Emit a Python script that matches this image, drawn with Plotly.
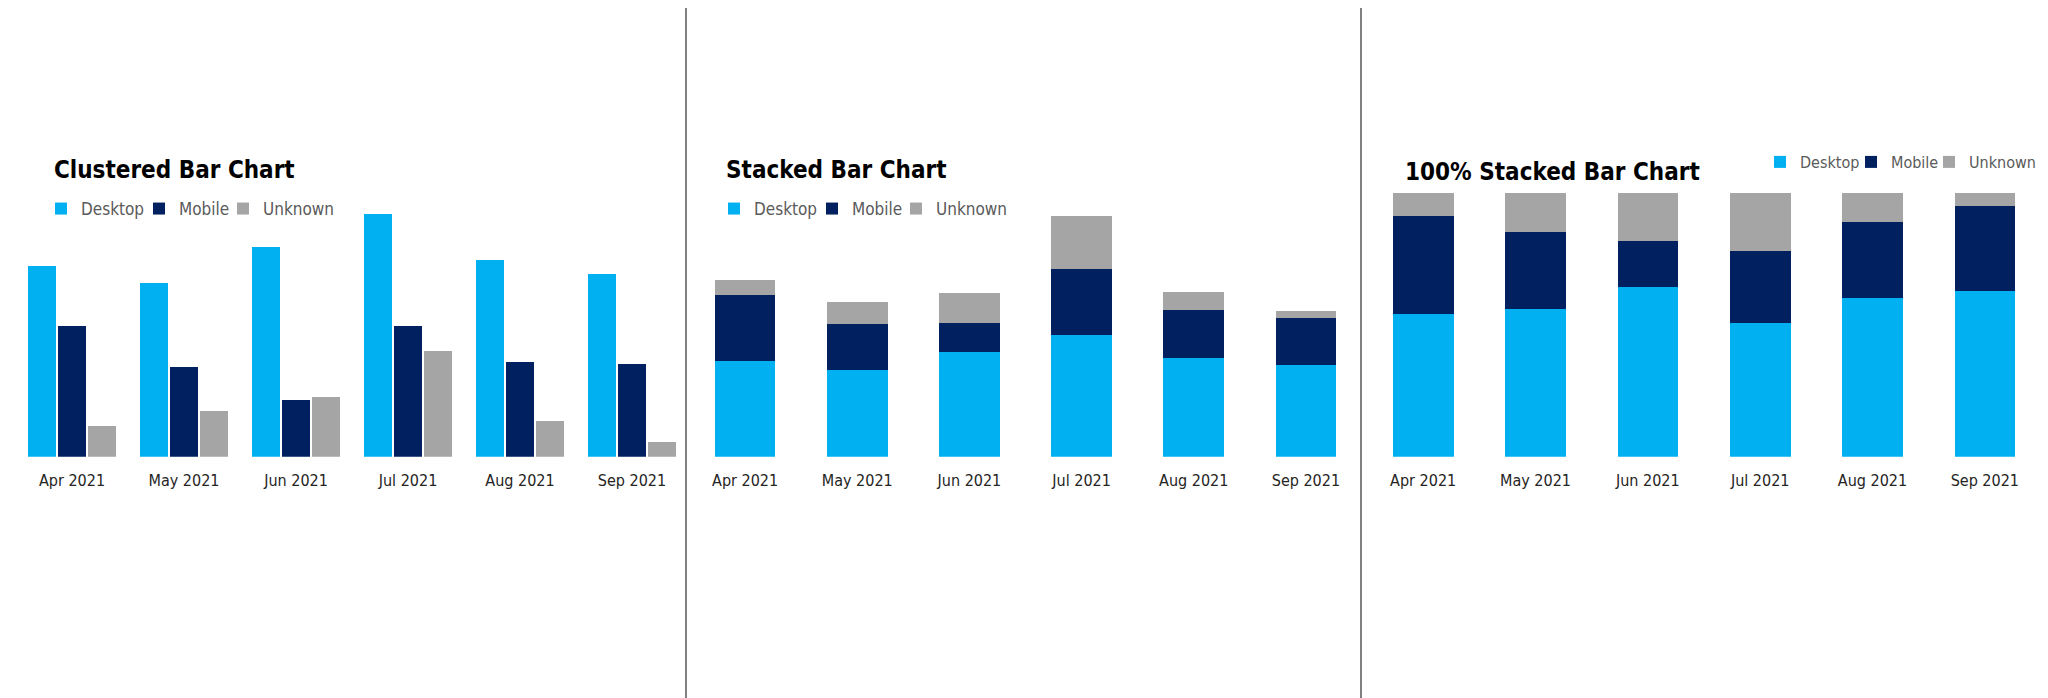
import numpy as np
import plotly.graph_objects as go

months = ['Apr 2021', 'May 2021', 'Jun 2021', 'Jul 2021', 'Aug 2021', 'Sep 2021']
desktop = [570, 519, 627, 727, 590, 547]
mobile = [393, 270, 170, 393, 285, 279]
unknown = [91, 136, 179, 316, 107, 44]

series = [('Desktop', desktop, '#00B0F0'),
          ('Mobile', mobile, '#002060'),
          ('Unknown', unknown, '#A5A5A5')]

# page body adds an 8px margin, so the figure is 8px smaller and positions are shifted
OFF = 8
W, H = 2048 - OFF, 698 - OFF
font = 'DejaVu Sans Condensed, Liberation Sans Narrow, Roboto, sans-serif'


def px(x):
    return (x - OFF) / W


def py(y):
    return 1 - (y - OFF) / H


totals = np.array(desktop) + np.array(mobile) + np.array(unknown)

fig = go.Figure()

# legend entry widths so the three swatches sit where the reference has them
lw12 = [53, 39, None]
lw3 = [46, 33, None]

# clustered: numeric axis so bars sit side by side while the layout is in stack mode
pos = np.arange(len(months))
for j, (name, vals, col) in enumerate(series):
    fig.add_trace(go.Bar(x=pos + (j - 1) * 0.268, y=vals, width=0.245, name=name,
                         marker=dict(color=col, line_width=0), legend='legend',
                         legendwidth=lw12[j], xaxis='x', yaxis='y'))

for j, (name, vals, col) in enumerate(series):
    fig.add_trace(go.Bar(x=months, y=vals, name=name,
                         marker=dict(color=col, line_width=0), legend='legend2',
                         legendwidth=lw12[j], xaxis='x2', yaxis='y2'))

for j, (name, vals, col) in enumerate(series):
    share = np.array(vals) / totals * 100
    fig.add_trace(go.Bar(x=months, y=share, name=name,
                         marker=dict(color=col, line_width=0), legend='legend3',
                         legendwidth=lw3[j], xaxis='x3', yaxis='y3'))

tick_font = dict(family=font, size=16, color='#252423')
xcommon = dict(showgrid=False, zeroline=False, showline=False, ticks='',
               tickfont=tick_font, ticklabelstandoff=12, fixedrange=True)
ycommon = dict(visible=False, showgrid=False, zeroline=False, fixedrange=True)

ybot = py(456.7)

leg_common = dict(orientation='h', bgcolor='rgba(0,0,0,0)',
                  xanchor='left', yanchor='middle', itemclick=False,
                  itemdoubleclick=False, traceorder='normal')
leg_font = dict(family=font, size=17, color='#5A5A5A')

fig.update_layout(
    width=W, height=H,
    margin=dict(l=0, r=0, t=0, b=0),
    paper_bgcolor='white', plot_bgcolor='white',
    barmode='stack', bargap=0.46,
    showlegend=True,
    xaxis=dict(xcommon, domain=[px(16), px(688)], type='linear', range=[-0.5, 5.5],
               tickvals=list(pos), ticktext=months),
    yaxis=dict(ycommon, domain=[ybot, py(214)], range=[0, max(desktop)]),
    xaxis2=dict(xcommon, domain=[px(689), px(1362)], type='category'),
    yaxis2=dict(ycommon, domain=[ybot, py(216)], range=[0, max(totals)]),
    xaxis3=dict(xcommon, domain=[px(1367), px(2041)], type='category'),
    yaxis3=dict(ycommon, domain=[ybot, py(193)], range=[0, 100]),
    legend=dict(leg_common, x=px(41), y=py(209), font=leg_font),
    legend2=dict(leg_common, x=px(714), y=py(209), font=leg_font),
    legend3=dict(leg_common, x=px(1760), y=py(162), font=dict(leg_font, size=16)),
    shapes=[
        dict(type='line', xref='paper', yref='paper', x0=px(686), x1=px(686),
             y0=0, y1=1, line=dict(color='#808080', width=2)),
        dict(type='line', xref='paper', yref='paper', x0=px(1361), x1=px(1361),
             y0=0, y1=1, line=dict(color='#808080', width=2)),
    ],
    annotations=[
        dict(text='<b>Clustered Bar Chart</b>', x=px(52), y=py(170)),
        dict(text='<b>Stacked Bar Chart</b>', x=px(724), y=py(170)),
        dict(text='<b>100% Stacked Bar Chart</b>', x=px(1403), y=py(172), font_size=23.5),
    ],
)
fig.update_annotations(xref='paper', yref='paper', xanchor='left', yanchor='middle',
                       showarrow=False, font=dict(family=font, size=24, color='#000000'))

fig.write_html('out.html')
